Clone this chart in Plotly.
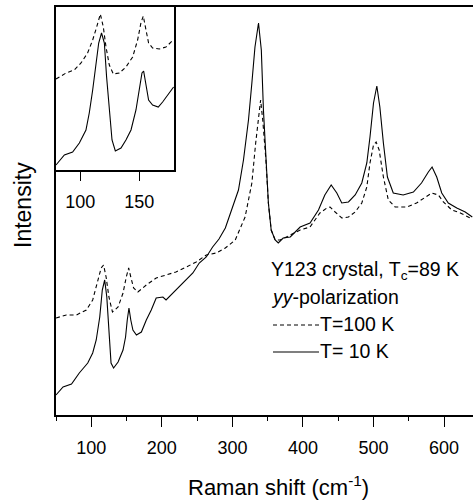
import plotly.graph_objects as go

# ---- main panel data (Raman shift in cm^-1, intensity in arbitrary units) ----
x_10K = [50, 60, 72, 83, 95, 102, 107, 112, 115.6, 119, 122, 125, 128, 131.6, 138, 145, 148.6, 151, 153.4,
         156, 159, 164, 171, 178, 185, 192, 201.5, 206, 216, 225, 234.6, 244, 253, 263, 272, 281, 290,
         299, 308.6, 315.7, 322.8, 327.6, 332, 337, 341, 344, 347.5, 351, 355, 360.6, 365, 372, 382, 396,
         410, 422, 431, 440, 448, 455, 464.5, 474, 483.4, 490.5, 495, 500, 504.7, 509, 514, 519.7, 528,
         542, 556.5, 568, 577.7, 583, 589.6, 596.7, 606, 618, 630, 640]
y_10K = [20, 28, 31, 42, 52, 62, 75, 98, 125, 135, 118, 78, 52, 47, 53, 65, 78, 95, 107,
         95, 85, 80, 83, 95, 105, 117, 118, 115, 122, 128, 135, 142, 152, 158, 168, 176, 187,
         205, 225, 255, 295, 332, 368, 392, 365, 305, 255, 212, 185, 175, 172, 177, 178, 188,
         192, 205, 220, 230, 222, 212, 213, 220, 232, 252, 278, 312, 329, 308, 272, 238, 222,
         220, 223, 232, 243, 248, 238, 222, 212, 207, 203, 198]

x_100K = [50, 64.6, 78.8, 93, 102, 109.5, 114, 117.4, 121, 125, 130, 138, 145, 149.6, 153, 156, 160, 166,
          178, 192, 206, 220, 234.6, 248.7, 263, 277, 290, 304, 318, 327.6, 333, 337, 340, 343, 347.5,
          351, 355, 360.6, 367.7, 382, 396, 410, 424, 434, 438.5, 445.6, 455, 464.5, 474, 483.4, 490.5,
          495, 500, 503.7, 508, 514, 521, 530.6, 547, 561, 573, 582.6, 592, 599, 611, 623, 637]
y_100K = [97, 100, 100, 105, 115, 135, 147, 150, 138, 118, 103, 108, 122, 138, 147, 138, 127, 123,
          130, 137, 140, 143, 148, 153, 160, 162, 167, 175, 198, 232, 272, 298, 315, 295, 255,
          212, 185, 175, 175, 180, 185, 188, 202, 207, 208, 203, 197, 198, 203, 212, 228,
          252, 270, 273, 265, 238, 215, 208, 208, 212, 218, 222, 220, 213, 205, 202, 197]

# ---- inset data (low-frequency region) ----
xi_10K = [79.4, 86.5, 93.5, 99.2, 104.8, 107.6, 110.5, 113.3, 115.6, 118, 120.4, 122.3, 124.6, 126.9,
          129.7, 134.5, 138.7, 143, 147.2, 150, 152.3, 153.7, 155.7, 157.9, 161.3, 166.1, 169.8, 174, 179.1]
yi_10K = [5, 15, 18, 27, 40, 57, 80, 107, 127, 137, 127, 93, 57, 30,
          19, 22, 30, 40, 60, 83, 97, 99, 83, 70, 65, 63, 68, 75, 83]
xi_100K = [79.4, 87.9, 94.9, 100.6, 106.2, 110.5, 113.9, 117, 119.5, 121.8, 124.6, 128, 133.1, 138.7,
           144.4, 148.6, 151.4, 153.4, 155.7, 157.9, 161.3, 167, 172.6, 178.8]
yi_100K = [91, 97, 100, 107, 117, 130, 143, 156, 143, 123, 105, 96, 97, 103,
           113, 130, 147, 154, 140, 127, 122, 121, 123, 130]

main_ticks = [100, 200, 300, 400, 500, 600]
inset_ticks = [100, 150]

FONT = "Liberation Sans, Arial, Helvetica, sans-serif"
DASH = "4px,3px"

fig = go.Figure()
fig.add_trace(go.Scatter(x=x_100K, y=y_100K, mode="lines", line=dict(color="black", width=1.1, dash=DASH),
                         showlegend=False, xaxis="x", yaxis="y"))
fig.add_trace(go.Scatter(x=x_10K, y=y_10K, mode="lines", line=dict(color="black", width=1.1),
                         showlegend=False, xaxis="x", yaxis="y"))
fig.add_trace(go.Scatter(x=xi_100K, y=yi_100K, mode="lines", line=dict(color="black", width=1.1, dash=DASH),
                         showlegend=False, xaxis="x2", yaxis="y2"))
fig.add_trace(go.Scatter(x=xi_10K, y=yi_10K, mode="lines", line=dict(color="black", width=1.1),
                         showlegend=False, xaxis="x2", yaxis="y2"))

W, H = 473, 502
L, R, T, B = 56, 0, 7, 87
pw, ph = W - L - R, H - T - B

def px(xpix):
    return (xpix - L) / pw

def py(ypix):
    return (H - B - ypix) / ph

fig.update_layout(
    width=W, height=H, margin=dict(l=L, r=R, t=T, b=B),
    paper_bgcolor="white", plot_bgcolor="white",
    font=dict(family=FONT, color="black", size=18),
    xaxis=dict(range=[50, 641], tickvals=main_ticks, ticks="outside", ticklen=10, tickwidth=1.2,
               tickcolor="black", showline=True, linewidth=2, linecolor="black", mirror=True,
               showgrid=False, zeroline=False, tickfont=dict(size=18), ticklabelstandoff=5,
               minor=dict(dtick=50, tick0=50, ticks="outside", ticklen=4, tickwidth=1, tickcolor="black")),
    yaxis=dict(range=[0, 408], showticklabels=False, ticks="", showline=True, linewidth=1.6,
               linecolor="black", showgrid=False, zeroline=False),
    xaxis2=dict(domain=[0, px(174.3)], anchor="y2", range=[79.4, 179.7], tickvals=inset_ticks,
                ticks="outside", ticklen=9, tickwidth=1.2, tickcolor="black", showline=True,
                linewidth=1.8, linecolor="black", mirror=True, showgrid=False, zeroline=False,
                tickfont=dict(size=18), ticklabelstandoff=5),
    yaxis2=dict(domain=[py(170), 1], anchor="x2", range=[0, 163], showticklabels=False, ticks="",
                showline=True, linewidth=1.8, linecolor="black", mirror=True, showgrid=False,
                zeroline=False),
)

ann = [
    dict(text="Raman shift (cm<sup>-1</sup>)", x=px(278), y=py(486), xanchor="center", yanchor="middle",
         font=dict(size=22)),
    dict(text="Intensity", x=px(23), y=py(205), xanchor="center", yanchor="middle", textangle=-90,
         font=dict(size=23)),
    dict(text="Y123 crystal, T<sub>c</sub>=89 K", x=px(269), y=py(270), xanchor="left", yanchor="middle",
         font=dict(size=19.5)),
    dict(text="<i>yy</i>-polarization", x=px(269), y=py(297), xanchor="left", yanchor="middle",
         font=dict(size=19.5)),
    dict(text="T=100 K", x=px(318), y=py(324), xanchor="left", yanchor="middle", font=dict(size=19.5)),
    dict(text="T= 10 K", x=px(318), y=py(351), xanchor="left", yanchor="middle", font=dict(size=19.5)),
]
for a in ann:
    a.update(xref="paper", yref="paper", showarrow=False)
fig.update_layout(annotations=ann)

fig.add_shape(type="line", xref="paper", yref="paper", x0=px(273), x1=px(319), y0=py(325), y1=py(325),
              line=dict(color="black", width=1, dash=DASH))
fig.add_shape(type="line", xref="paper", yref="paper", x0=px(273), x1=px(319), y0=py(352), y1=py(352),
              line=dict(color="black", width=1.2))

fig.write_html("out.html")
